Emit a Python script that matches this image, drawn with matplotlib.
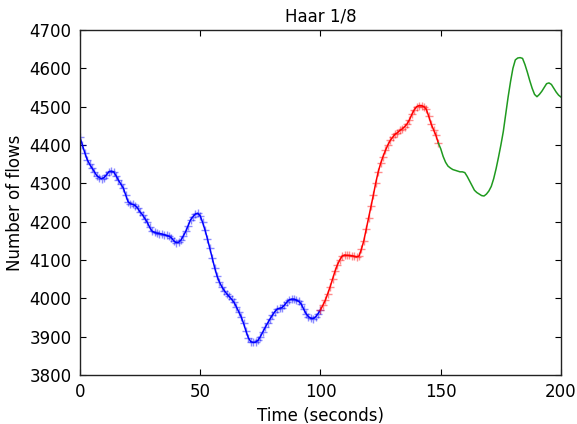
import matplotlib
matplotlib.use("Agg")
import matplotlib.pyplot as plt
import numpy as np

# estimated flow counts, one per second
t_blue = list(range(0, 101))
flows_blue = [4420, 4400, 4380, 4362, 4350, 4340, 4330, 4320, 4315, 4312,
              4315, 4322, 4330, 4332, 4330, 4320, 4308, 4298, 4288, 4270,
              4252, 4247, 4245, 4242, 4235, 4225, 4218, 4208, 4198, 4185,
              4175, 4172, 4170, 4169, 4168, 4166, 4164, 4162, 4158, 4150,
              4145, 4146, 4152, 4163, 4175, 4190, 4205, 4213, 4220, 4222,
              4215, 4198, 4178, 4155, 4130, 4105, 4080, 4058, 4042, 4030,
              4020, 4012, 4005, 3998, 3990, 3978, 3965, 3952, 3935, 3915,
              3897, 3887, 3885, 3886, 3890, 3900, 3912, 3924, 3935, 3946,
              3956, 3965, 3972, 3974, 3976, 3982, 3990, 3996, 3998, 3998,
              3995, 3992, 3985, 3972, 3960, 3952, 3948, 3947, 3952, 3960,
              3970]

t_red = list(range(100, 150))
flows_red = [3970, 3982, 3995, 4012, 4030, 4050, 4070, 4087, 4100, 4110,
             4113, 4112, 4112, 4111, 4110, 4108, 4110, 4128, 4150, 4180,
             4210, 4240, 4270, 4302, 4330, 4352, 4370, 4386, 4400, 4412,
             4420, 4428, 4432, 4438, 4442, 4448, 4455, 4466, 4480, 4492,
             4500, 4503, 4503, 4500, 4493, 4475, 4455, 4440, 4425, 4405]

t_green = list(range(149, 201))
flows_green = [4405, 4390, 4370, 4355, 4345, 4340, 4336, 4334, 4332, 4330,
               4330, 4328, 4318, 4306, 4294, 4282, 4276, 4272, 4268, 4267,
               4272, 4280, 4292, 4312, 4338, 4368, 4400, 4435, 4480, 4525,
               4565, 4600, 4622, 4627, 4628, 4626, 4610, 4590, 4568, 4548,
               4532, 4526, 4532, 4540, 4550, 4560, 4562, 4558, 4548, 4538,
               4530, 4525]

fig = plt.figure(figsize=(5.77, 4.24), dpi=100)
ax = fig.add_axes([0.1386, 0.1156, 0.8337, 0.8136])

ax.plot(t_blue, flows_blue, color="b", lw=1.1)
ax.plot(t_blue, flows_blue, "+", color="b", ms=6, mew=1, alpha=0.45)
ax.plot(t_red, flows_red, color="r", lw=1.1)
ax.plot(t_red, flows_red, "+", color="r", ms=6, mew=1, alpha=0.45)
ax.plot(t_green, flows_green, color="#1f9a1f", lw=1.1)

ax.set_xlim(0, 200)
ax.set_ylim(3800, 4700)
ax.set_xticks(np.arange(0, 201, 50))
ax.set_yticks(np.arange(3800, 4701, 100))
ax.tick_params(direction="in", top=True, right=True, labelsize=12, length=4, pad=6)
for s in ax.spines.values():
    s.set_linewidth(1.0)
    s.set_color("#222222")

ax.set_title("Haar 1/8", fontsize=12)
ax.set_xlabel("Time (seconds)", fontsize=12)
ax.set_ylabel("Number of flows", fontsize=12)

fig.savefig("out.png", dpi=100)
